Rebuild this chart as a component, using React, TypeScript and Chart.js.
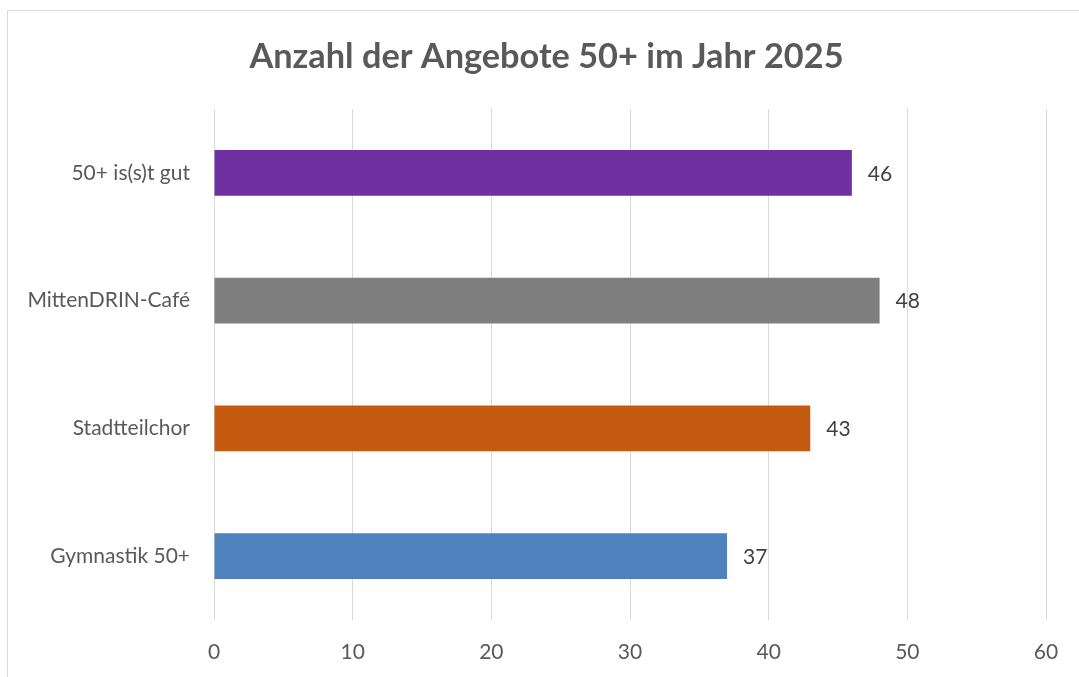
import React, { useEffect, useRef } from "react";
import { Chart, registerables } from "chart.js";

Chart.register(...registerables);

const categories = ["50+ is(s)t gut", "MittenDRIN-Café", "Stadtteilchor", "Gymnastik 50+"];
const values = [46, 48, 43, 37];
const barColors = ["#7030A0", "#7F7F7F", "#C55A11", "#4F81BD"];
const titleText = "Anzahl der Angebote 50+ im Jahr 2025";
const xMin = 0;
const xMax = 60;
const xStep = 10;

const FONT = "Lato, 'Open Sans', sans-serif";

const framePlugin = {
  id: "frame",
  beforeDraw(chart: any) {
    const ctx = chart.ctx;
    ctx.save();
    ctx.fillStyle = "#ffffff";
    ctx.fillRect(0, 0, chart.width, chart.height);
    ctx.strokeStyle = "#d9d9d9";
    ctx.lineWidth = 1;
    ctx.strokeRect(7.5, 10.5, 1200, 800);
    ctx.restore();
  },
};

const titlePlugin = {
  id: "customTitle",
  afterDraw(chart: any) {
    const ctx = chart.ctx;
    ctx.save();
    ctx.font = `bold 34.3px ${FONT}`;
    ctx.fillStyle = "#595959";
    ctx.textAlign = "center";
    ctx.textBaseline = "middle";
    ctx.fillText(titleText, 546.5, 57);
    ctx.restore();
  },
};

const valueLabelPlugin = {
  id: "valueLabels",
  afterDatasetsDraw(chart: any) {
    const ctx = chart.ctx;
    const meta = chart.getDatasetMeta(0);
    ctx.save();
    ctx.font = `21px ${FONT}`;
    ctx.fillStyle = "#404040";
    ctx.textAlign = "left";
    ctx.textBaseline = "middle";
    meta.data.forEach((bar: any, i: number) => {
      ctx.fillText(String(values[i]), bar.x + 16, bar.y + 1);
    });
    ctx.restore();
  },
};

export default function App() {
  const ref = useRef<HTMLCanvasElement | null>(null);
  useEffect(() => {
    if (!ref.current) return;
    const chart = new Chart(ref.current, {
      type: "bar",
      data: {
        labels: categories,
        datasets: [
          {
            data: values,
            backgroundColor: barColors,
            borderWidth: 0,
            barPercentage: 0.6,
            categoryPercentage: 0.6,
          },
        ],
      },
      options: {
        indexAxis: "y",
        responsive: false,
        animation: false,
        layout: { padding: { left: 0, right: 33, top: 109, bottom: 0 } },
        plugins: {
          legend: { display: false },
          tooltip: { enabled: false },
          title: { display: false },
        },
        scales: {
          x: {
            min: xMin,
            max: xMax,
            ticks: {
              stepSize: xStep,
              color: "#595959",
              font: { family: FONT, size: 21 },
              padding: 20,
            },
            grid: { color: "#d9d9d9", lineWidth: 1, drawTicks: false },
            border: { display: false },
            afterFit(scale: any) {
              scale.height = 57;
            },
          },
          y: {
            ticks: {
              color: "#595959",
              font: { family: FONT, size: 21 },
              padding: 24,
            },
            grid: { display: false, drawTicks: false },
            border: { display: false },
            afterFit(scale: any) {
              scale.width = 214;
            },
          },
        },
      },
      plugins: [framePlugin, valueLabelPlugin, titlePlugin],
    });
    return () => chart.destroy();
  }, []);
  return (
    <div style={{ position: "fixed", left: 0, top: 0, width: 1079, height: 677, background: "#fff" }}>
      <canvas ref={ref} width={1079} height={677} style={{ display: "block" }} />
    </div>
  );
}
